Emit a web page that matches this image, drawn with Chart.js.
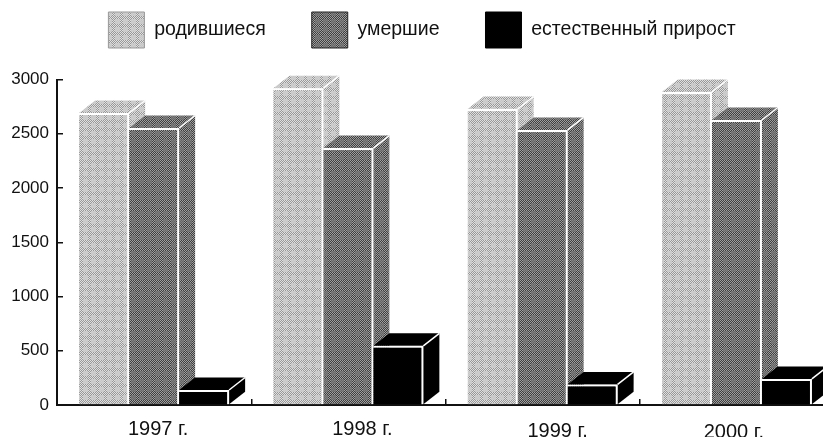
<!DOCTYPE html>
<html><head><meta charset="utf-8">
<style>html,body{margin:0;padding:0;background:#fff;overflow:hidden;width:823px;height:437px}#w{width:823px;height:437px;overflow:hidden}canvas{display:block}</style>
<script src="https://cdn.jsdelivr.net/npm/chart.js@4"></script>
</head><body><div id="w"><canvas id="c" width="850" height="437"></canvas></div>
<script>
const categories = ['1997 г.', '1998 г.', '1999 г.', '2000 г.'];
const births = [2691, 2920, 2728, 2885];
const deaths = [2553, 2368, 2535, 2627];
const naturalIncrease = [138, 545, 190, 240];
const seriesNames = ['родившиеся', 'умершие', 'естественный прирост'];
const yTicks = [0, 500, 1000, 1500, 2000, 2500, 3000];

function dither(a, b, softA, softB) {
  const n = 16, t = document.createElement('canvas');
  t.width = t.height = n;
  const g = t.getContext('2d');
  for (let y = 0; y < n; y++) for (let x = 0; x < n; x++) {
    const odd = (x + y) % 2 === 1;
    const band = (x % 8 < 3) || (y % 8 < 3);
    g.fillStyle = band ? (odd ? a : b) : (odd ? softA : softB);
    g.fillRect(x, y, 1, 1);
  }
  return g.createPattern(t, 'repeat');
}
const ctx0 = document.getElementById('c').getContext('2d');
const light = dither('#989898', '#e0e0e0', '#c6c6c6', '#d0d0d0');
const dark = dither('#3e3e3e', '#a0a0a0', '#686868', '#808080');
const DX = 16, DY = 12.5;
const labelShiftX = [4, 14, 15, -3];
const labelShiftY = [-2, -2, 0, 1];

const box3d = {
  id: 'box3d',
  beforeInit(chart) {
    const fit = chart.legend.fit;
    chart.legend.fit = function () { fit.call(this); this.height = 113.5; };
  },
  beforeDraw(chart) {
    if (chart.$shifted) return;
    chart.$shifted = true;
    chart.legend.left += 5;
    chart.legend.right += 5;
    chart.scales.x.getLabelItems().forEach((it, i) => {
      it.options.translation[0] += labelShiftX[i];
      it.options.translation[1] += labelShiftY[i];
    });
  },
  afterDatasetsDraw(chart) {
    const c = chart.ctx;
    chart.data.datasets.forEach((ds, i) => {
      chart.getDatasetMeta(i).data.forEach(b => {
        const l = b.x - b.width / 2, r = b.x + b.width / 2, t = b.y, base = b.base;
        c.save();
        c.fillStyle = ds.backgroundColor;
        c.strokeStyle = '#fff';
        c.lineWidth = 1.5;
        c.beginPath();
        c.moveTo(r, t); c.lineTo(r + DX, t - DY); c.lineTo(r + DX, base - DY); c.lineTo(r, base); c.closePath();
        c.fill();
        c.beginPath();
        c.moveTo(l, t); c.lineTo(l + DX, t - DY); c.lineTo(r + DX, t - DY); c.lineTo(r, t); c.closePath();
        c.fill();
        c.beginPath(); c.moveTo(r, t); c.lineTo(r + DX, t - DY); c.stroke();
        c.restore();
        b.draw(c);
      });
    });
  }
};

const bw = {top: 2, right: 2, left: 0, bottom: 0};
const mk = (i, data, bg) => ({
  label: seriesNames[i], data, backgroundColor: bg, borderColor: '#fff', borderWidth: bw,
  borderSkipped: false, categoryPercentage: 0.772, barPercentage: 1
});
const family = '"Liberation Sans", Arial, sans-serif';

new Chart(ctx0, {
  type: 'bar',
  plugins: [box3d],
  data: {
    labels: categories,
    datasets: [mk(0, births, light), mk(1, deaths, dark), mk(2, naturalIncrease, '#000')]
  },
  options: {
    responsive: false, animation: false, devicePixelRatio: 1,
    layout: {padding: {top: -34, right: 16, left: 0, bottom: 0}},
    plugins: {
      tooltip: {enabled: false},
      legend: {
        display: true, position: 'top',
        labels: {
          boxWidth: 36, boxHeight: 36, padding: 46, color: '#111',
          font: {family, size: 19.5},
          generateLabels(chart) {
            const strokes = ['#999', '#222', '#000'];
            return chart.data.datasets.map((d, i) => ({
              text: d.label, fillStyle: d.backgroundColor, strokeStyle: strokes[i],
              lineWidth: 1, datasetIndex: i, fontColor: '#111'
            }));
          }
        }
      }
    },
    scales: {
      x: {
        afterFit(s) { s.height = 32; },
        grid: {drawOnChartArea: false, tickLength: -6, color: '#111', lineWidth: 1.5},
        border: {color: '#111', width: 2},
        ticks: {color: '#111', padding: 20, maxRotation: 0, font: {family, size: 20}}
      },
      y: {
        min: 0, max: 3000,
        afterFit(s) { s.width = 57; },
        afterBuildTicks(s) { s.ticks = yTicks.map(v => ({value: v})); },
        grid: {drawOnChartArea: false, tickLength: -6, color: '#111', lineWidth: 1.5},
        border: {color: '#111', width: 2},
        ticks: {color: '#111', padding: 14, callback: v => String(v), font: {family, size: 17}}
      }
    }
  }
});
</script></body></html>
